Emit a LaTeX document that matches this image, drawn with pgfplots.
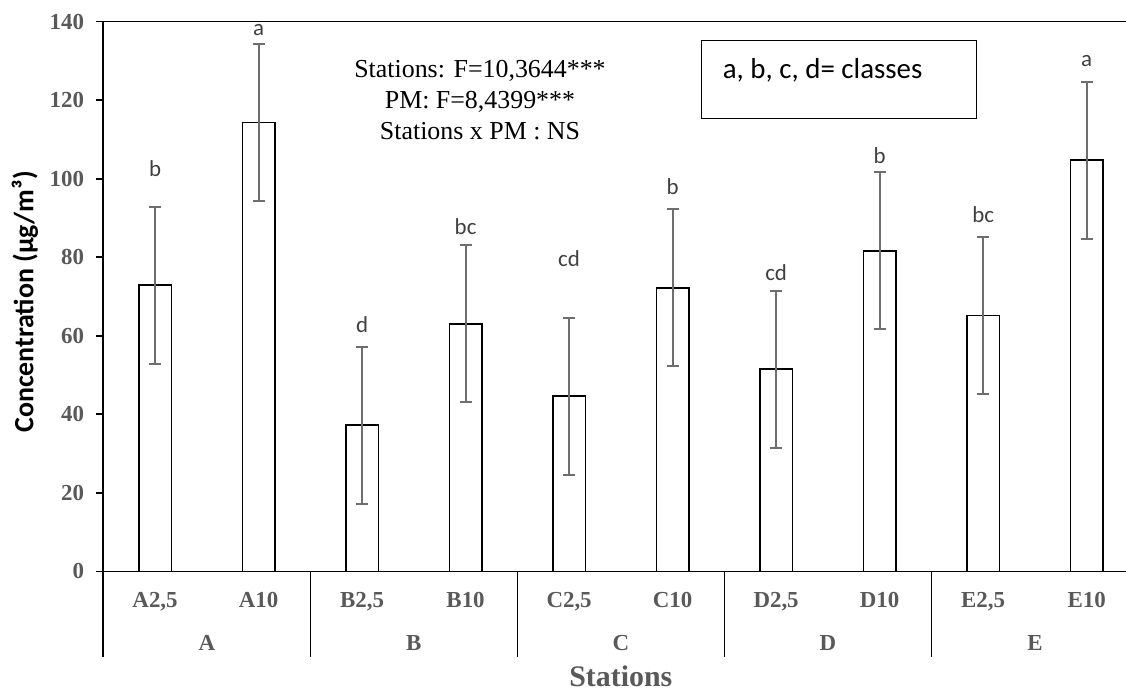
\documentclass[border=0pt]{standalone}
\usepackage{fontspec}
\setmainfont{Liberation Serif}
\newfontfamily\calibri{Carlito}
\usepackage{pgfplots}
\pgfplotsset{compat=1.18}
\definecolor{tickgray}{HTML}{595959}
\definecolor{errgray}{HTML}{6E6E6E}
\definecolor{lettergray}{HTML}{404040}
\pgfplotstableread{
x y e
0 72.9 20
1 114.3 20
2 37.2 20
3 63.0 20
4 44.6 20
5 72.2 20
6 51.5 20
7 81.6 20
8 65.2 20
9 104.7 20
}\datatable
\begin{document}
\begin{tikzpicture}
\begin{axis}[
  scale only axis,
  width=1022.7bp, height=549.6bp,
  xmin=-0.5, xmax=9.38,
  ymin=0, ymax=140,
  axis lines*=left,
  axis line style={black, line width=1.6bp},
  ytick={0,20,...,140},
  yticklabels={0,20,40,60,80,100,120,140},
  tick align=outside,
  major tick length=7bp,
  ytick style={black, line width=1.6bp},
  xtick={0,...,9},
  xtick style={draw=none},
  xticklabels={{A2,5},{A10},{B2,5},{B10},{C2,5},{C10},{D2,5},{D10},{E2,5},{E10}},
  yticklabel style={font=\fontsize{23}{23}\selectfont\bfseries, text=tickgray, inner sep=0pt, xshift=-12bp},
  xticklabel style={font=\fontsize{23}{23}\selectfont\bfseries, text=tickgray, anchor=north, inner sep=0pt, yshift=-14bp},
  clip=false,
]
\addplot[ybar, bar width=32.5bp, fill=white, draw=black, line width=1.6bp,
  error bars/.cd, y dir=both, y explicit,
  error bar style={draw=errgray, line width=2bp},
  error mark options={rotate=90, draw=errgray, mark size=6bp, line width=2bp}]
  table[x=x, y=y, y error=e] {\datatable};
% top frame line
\draw[black, line width=1.6bp] (rel axis cs:0,1) -- (rel axis cs:1,1);
% group separators
\pgfplotsinvokeforeach{-0.5,1.5,3.5,5.5,7.5}{
  \draw[black, line width=1.6bp] (axis cs:#1,0) -- ++(0pt,-85.4bp);
}
% group labels
\begin{scope}[every node/.style={font=\fontsize{23}{23}\selectfont\bfseries, text=tickgray, yshift=-72bp}]
\node at (axis cs:0.5,0) {A};
\node at (axis cs:2.5,0) {B};
\node at (axis cs:4.5,0) {C};
\node at (axis cs:6.5,0) {D};
\node at (axis cs:8.5,0) {E};
\end{scope}
\node[font=\fontsize{30}{30}\selectfont\bfseries, text=tickgray, yshift=-105.2bp] at (axis cs:4.5,0) {Stations};
% class letters
\begin{scope}[every node/.style={font=\calibri\fontsize{23}{23}\selectfont, text=lettergray}]
\node at (axis cs:0,102.5) {b};
\node at (axis cs:1,138) {a};
\node at (axis cs:2,62.8) {d};
\node at (axis cs:3,87.8) {bc};
\node at (axis cs:4,79.7) {cd};
\node at (axis cs:5,98) {b};
\node at (axis cs:6,76.2) {cd};
\node at (axis cs:7,106) {b};
\node at (axis cs:8,90.8) {bc};
\node at (axis cs:9,130) {a};
\end{scope}
% statistics text
\node[font=\fontsize{26}{31}\selectfont, align=center, text=black, xshift=376.7bp, yshift=471.3bp] at (rel axis cs:0,0) {Stations: F=10,3644***\\PM: F=8,4399***\\Stations x PM : NS};
% classes box
\draw[black, line width=1.4bp] (rel axis cs:0,0) ++(598.4bp,453bp) rectangle ++(274.6bp,77.6bp);
\node[font=\calibri\fontsize{29}{29}\selectfont, anchor=base west, inner sep=0pt, xshift=619.4bp, yshift=492.3bp] at (rel axis cs:0,0) {a, b, c, d= classes};
% y label
\node[font=\calibri\bfseries\fontsize{28}{28}\selectfont, xshift=-78.3bp, yshift=269.3bp, rotate=90] at (rel axis cs:0,0) {Concentration (µg/m³)};
\end{axis}
\pgfresetboundingbox
\path[use as bounding box] (-103.3bp,-119.7bp) rectangle (1022.7bp,571.3bp);
\end{tikzpicture}
\end{document}
